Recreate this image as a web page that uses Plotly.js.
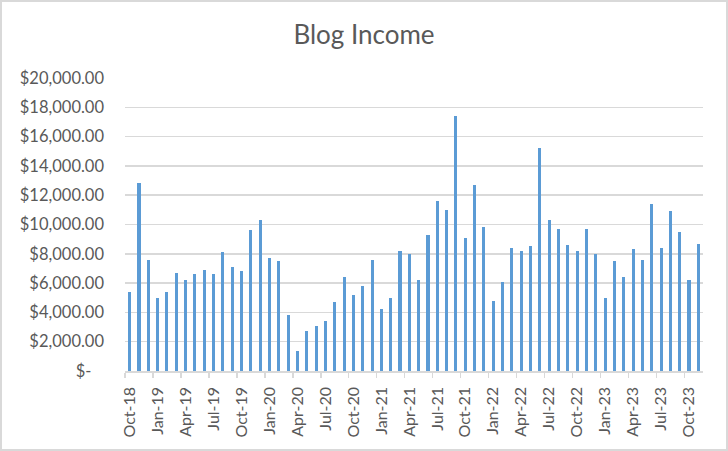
<!DOCTYPE html>
<html>
<head>
<meta charset="utf-8">
<script src="https://cdn.plot.ly/plotly-3.0.1.min.js"></script>
<style>
  body { margin: 0; padding: 0; background: #ffffff; }
  #wrap { position: relative; width: 728px; height: 451px; }
  #plot { position: absolute; left: 0; top: 0; width: 728px; height: 451px; }
  #frame { position: absolute; left: 0; top: 0; width: 728px; height: 451px;
           box-sizing: border-box; border: 2px solid #d9d9d9; pointer-events: none; }
</style>
</head>
<body>
<div id="wrap">
  <div id="plot"></div>
  <div id="frame"></div>
</div>
<script>

// Months on the x axis
let months = [
  "Oct-18", "Nov-18", "Dec-18",
  "Jan-19", "Feb-19", "Mar-19", "Apr-19", "May-19", "Jun-19",
  "Jul-19", "Aug-19", "Sep-19", "Oct-19", "Nov-19", "Dec-19",
  "Jan-20", "Feb-20", "Mar-20", "Apr-20", "May-20", "Jun-20",
  "Jul-20", "Aug-20", "Sep-20", "Oct-20", "Nov-20", "Dec-20",
  "Jan-21", "Feb-21", "Mar-21", "Apr-21", "May-21", "Jun-21",
  "Jul-21", "Aug-21", "Sep-21", "Oct-21", "Nov-21", "Dec-21",
  "Jan-22", "Feb-22", "Mar-22", "Apr-22", "May-22", "Jun-22",
  "Jul-22", "Aug-22", "Sep-22", "Oct-22", "Nov-22", "Dec-22",
  "Jan-23", "Feb-23", "Mar-23", "Apr-23", "May-23", "Jun-23",
  "Jul-23", "Aug-23", "Sep-23", "Oct-23", "Nov-23"
];

// Monthly income
let income = [
  5400, 12800, 7600,
  5000, 5400, 6700, 6200, 6600, 6900,
  6600, 8100, 7100, 6800, 9600, 10300,
  7700, 7500, 3800, 1350, 2700, 3100,
  3400, 4700, 6400, 5200, 5800, 7600,
  4200, 5000, 8200, 8000, 6200, 9300,
  11600, 11000, 17400, 9100, 12700, 9800,
  4750, 6100, 8400, 8200, 8500, 15200,
  10300, 9700, 8600, 8200, 9700, 8000,
  5000, 7500, 6400, 8300, 7600, 11400,
  8400, 10900, 9500, 6200, 8700
];

// Y axis ticks
let yvals = [0, 2000, 4000, 6000, 8000, 10000, 12000, 14000, 16000, 18000, 20000];
let ylabels = ["$-\u00a0\u00a0\u00a0", "$2,000.00", "$4,000.00", "$6,000.00", "$8,000.00",
  "$10,000.00", "$12,000.00", "$14,000.00", "$16,000.00", "$18,000.00", "$20,000.00"];

// Label every quarter month
let quarter_months = ["Jan", "Apr", "Jul", "Oct"];
let xidx = months.map((m, i) => i);
let xvals = xidx.filter(i => quarter_months.indexOf(months[i].substring(0, 3)) !== -1);
let xlabels = xvals.map(i => months[i]);

let textcol = "#595959";
let gridcol = "#d9d9d9";
let fontfam = "Lato, 'Open Sans', sans-serif";

let data = [{
  type: "bar",
  x: xidx,
  y: income,
  width: 0.33,
  marker: { color: "#5b9bd5" },
  hoverinfo: "y",
  showlegend: false
}];

let layout = {
  width: 728,
  height: 451,
  paper_bgcolor: "#ffffff",
  plot_bgcolor: "#ffffff",
  font: { family: fontfam, color: textcol },
  title: {
    text: "Blog Income",
    font: { family: fontfam, size: 26, color: textcol },
    x: 0.5,
    xanchor: "center",
    yref: "container",
    y: 0.922,
    yanchor: "middle"
  },
  xaxis: {
    range: [-0.5, months.length - 0.5],
    tickmode: "array",
    tickvals: xvals,
    ticktext: xlabels,
    tickangle: -90,
    ticks: "",
    ticklabelstandoff: 8,
    tickfont: { size: 16, color: textcol },
    showgrid: false,
    zeroline: false,
    showline: true,
    linecolor: gridcol,
    linewidth: 1.5,
    minor: {
      tickmode: "linear",
      tick0: -0.5,
      dtick: 3,
      ticks: "outside",
      ticklen: 5,
      tickwidth: 1.5,
      tickcolor: gridcol,
      showgrid: false
    },
    fixedrange: true
  },
  yaxis: {
    range: [0, 20000],
    tickmode: "array",
    tickvals: yvals,
    ticktext: ylabels,
    tickfont: { size: 16.5, color: textcol },
    ticks: "",
    ticklabelstandoff: 20,
    showgrid: true,
    gridcolor: gridcol,
    gridwidth: 1.5,
    zeroline: false,
    showline: false,
    fixedrange: true
  },
  bargap: 0,
  margin: { l: 125, r: 25, t: 78, b: 80, pad: 0 }
};

Plotly.newPlot("plot", data, layout, { displayModeBar: false, staticPlot: true });

</script>
</body>
</html>
